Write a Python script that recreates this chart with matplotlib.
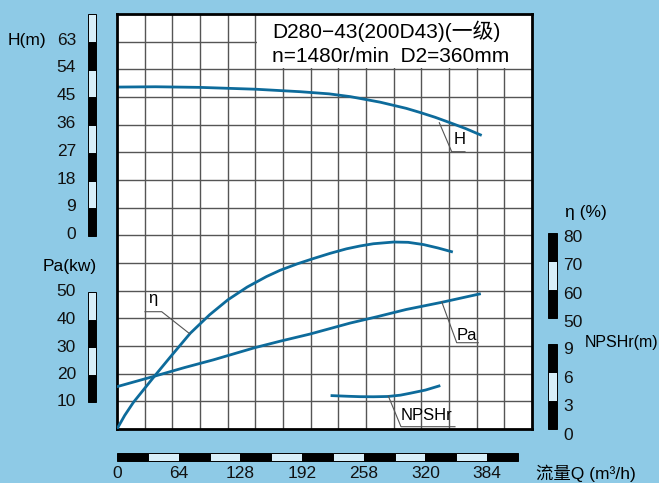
import matplotlib
matplotlib.use('Agg')
import matplotlib.pyplot as plt
from matplotlib.patches import Rectangle
from matplotlib.lines import Line2D

plt.rcParams['font.family'] = ['Liberation Sans', 'Noto Sans CJK SC']

# ---- curve data ----
q_head = [0, 40, 86, 144, 190, 220, 242, 273, 300, 314, 330, 345, 362, 377]
head = [48.3, 48.4, 48.2, 47.6, 46.8, 46.1, 45.2, 43.4, 41.4, 40.1, 38.5, 36.8, 34.8, 32.8]

q_power = [0, 40, 70, 100, 143, 170, 200, 242, 270, 300, 337, 376]
power = [15.3, 19.2, 22.2, 25.0, 29.4, 31.8, 34.3, 38.3, 40.6, 43.2, 45.8, 48.8]

q_eff = [0, 8, 17, 39, 55, 76, 96, 115, 135, 155, 169, 187, 204, 221, 238,
         252, 266, 287, 302, 318, 333, 347]
eff = [10.8, 15.6, 20.2, 29.5, 36.1, 44.6, 51.1, 56.4, 60.9, 64.6, 66.8, 69.1, 71.0, 72.8, 74.4,
       75.4, 76.2, 76.8, 76.7, 75.9, 74.7, 73.4]

q_npsh = [223, 240, 252, 266, 281, 294, 304, 320, 334]
npsh = [3.53, 3.46, 3.42, 3.41, 3.44, 3.58, 3.78, 4.12, 4.55]

# ---- scale bars ----
h_ticks = [0, 9, 18, 27, 36, 45, 54, 63]
h_bar = [0, 9, 18, 27, 36, 45, 54, 63, 72]
pa_ticks = [10, 20, 30, 40, 50]
eff_ticks = [50, 60, 70, 80]
npsh_ticks = [0, 3, 6, 9]
q_ticks = [0, 64, 128, 192, 256, 320, 384]
q_labels = ['0', '64', '128', '192', '258', '320', '384']
q_bar = [0, 32, 64, 96, 128, 160, 192, 224, 256, 288, 320, 352, 384, 416]

W, HP = 659, 483
BG = '#8ecae6'
LINE = '#0d6b9b'
LIGHT = '#d8eff9'
GRID = '#555555'

fig = plt.figure(figsize=(W / 100, HP / 100), dpi=100, facecolor=BG)


def box(x0, y0, x1, y1):
    return [x0 / W, 1 - y1 / HP, (x1 - x0) / W, (y1 - y0) / HP]


def fx(x):
    return x / W


def fy(y):
    return 1 - y / HP


#*******  MAIN PLOT  *******#
ax = fig.add_axes(box(117, 14, 532, 429))
ax.set_facecolor('white')
ax.set_xlim(0, 430.5)
ax.set_ylim(-62.6, 72)
ax.set_xticks([])
ax.set_yticks([])
for s in ax.spines.values():
    s.set_linewidth(2)
    s.set_color('black')
    s.set_zorder(5)

for i in range(1, 15):
    ax.plot([i / 15, i / 15], [0, 1], transform=ax.transAxes, color=GRID, lw=1, zorder=1)
    ax.plot([0, 1], [i / 15, i / 15], transform=ax.transAxes, color=GRID, lw=1, zorder=1)
ax.add_patch(Rectangle((5 / 15 + 0.004, 13 / 15 + 0.004), 1, 1, transform=ax.transAxes,
                       facecolor='white', edgecolor='none', zorder=2))

ax.plot(q_head, head, color=LINE, lw=2, zorder=3, solid_joinstyle='round')

ax_pa = ax.twinx()
ax_pa.set_ylim(0, 150)
ax_pa.axis('off')
ax_pa.plot(q_power, power, color=LINE, lw=2, solid_joinstyle='round')

ax_eff = ax.twinx()
ax_eff.set_ylim(10.8, 157.3)
ax_eff.axis('off')
ax_eff.plot(q_eff, eff, color=LINE, lw=2, solid_joinstyle='round')

ax_np = ax.twinx()
ax_np.set_ylim(0, 43.9)
ax_np.axis('off')
ax_np.plot(q_npsh, npsh, color=LINE, lw=2, solid_joinstyle='round')


#*******  SCALE BARS  *******#
def vbar(rect, edges):
    sax = fig.add_axes(rect)
    sax.set_xlim(0, 1)
    sax.set_ylim(edges[0], edges[-1])
    sax.axis('off')
    for k in range(len(edges) - 1):
        sax.bar(0.5, edges[k + 1] - edges[k], bottom=edges[k], width=1,
                color='black' if k % 2 == 0 else LIGHT, edgecolor='black', lw=0.7,
                clip_on=False)
    return sax


def label_ticks(sax, ticks, dx, dy, ha):
    for v in ticks:
        sax.annotate(str(v), xy=(0 if ha == 'right' else 1, v), xycoords=('axes fraction', 'data'),
                     xytext=(dx * 0.72, dy * 0.72), textcoords='offset points',
                     ha=ha, va='center', fontsize=12.5, color='#111111')


s_h = vbar(box(88, 14, 96, 236), h_bar)
label_ticks(s_h, h_ticks, -12, 1.5, 'right')

s_pa = vbar(box(88, 292, 96, 402), pa_ticks)
label_ticks(s_pa, pa_ticks, -12, 0, 'right')

s_eff = vbar(box(548, 233, 557, 318), eff_ticks)
label_ticks(s_eff, eff_ticks, 6, -4.5, 'left')

s_np = vbar(box(548, 344, 557, 429), npsh_ticks)
label_ticks(s_np, npsh_ticks, 6, -6, 'left')

s_q = fig.add_axes(box(117, 453, 518, 461))
s_q.set_xlim(q_bar[0], q_bar[-1])
s_q.set_ylim(0, 1)
s_q.axis('off')
for k in range(len(q_bar) - 1):
    s_q.barh(0.5, q_bar[k + 1] - q_bar[k], left=q_bar[k], height=1,
             color='black' if k % 2 == 0 else LIGHT, edgecolor='black', lw=0.7, clip_on=False)
for v, lab in zip(q_ticks, q_labels):
    s_q.annotate(lab, xy=(v, 0), xycoords=('data', 'axes fraction'),
                 xytext=(0, -12 * 0.72), textcoords='offset points',
                 ha='center', va='center', fontsize=12.5, color='#111111')

#*******  TEXTS  *******#
fig.text(fx(272), fy(31), 'D280−43(200D43)(一级)', fontsize=15, ha='left', va='center')
fig.text(fx(272), fy(57), 'n=1480r/min  D2=360mm', fontsize=15, ha='left', va='center')

fig.text(fx(8), fy(40), 'H(m)', fontsize=12.5, ha='left', va='center')
fig.text(fx(43), fy(266), 'Pa(kw)', fontsize=12.5, ha='left', va='center')
fig.text(fx(565), fy(212), 'η (%)', fontsize=12.5, ha='left', va='center')
fig.text(fx(585), fy(342), 'NPSHr(m)', fontsize=11.5, ha='left', va='center')
fig.text(fx(536), fy(473), '流量Q (m³/h)', fontsize=12.5, ha='left', va='center')

fig.text(fx(460), fy(140), 'H', fontsize=12, ha='center', va='center')
fig.text(fx(467), fy(335), 'Pa', fontsize=12, ha='center', va='center')
fig.text(fx(427), fy(416), 'NPSHr', fontsize=12, ha='center', va='center')
fig.text(fx(153), fy(298), 'η', fontsize=12, ha='center', va='center')

leaders = [
    [(145, 311.7), (161.7, 311.7), (190, 334)],
    [(441.7, 301.7), (456.7, 342.7), (478.3, 342.7)],
    [(388.3, 396), (401, 426.7), (455, 426.7)],
    [(439.3, 122.7), (451.7, 151.7), (465, 151.7)],
]
for pts in leaders:
    fig.add_artist(Line2D([fx(p[0]) for p in pts], [fy(p[1]) for p in pts],
                          color='#555555', lw=0.8, zorder=6))

fig.savefig('out.png', dpi=100, facecolor=BG)
